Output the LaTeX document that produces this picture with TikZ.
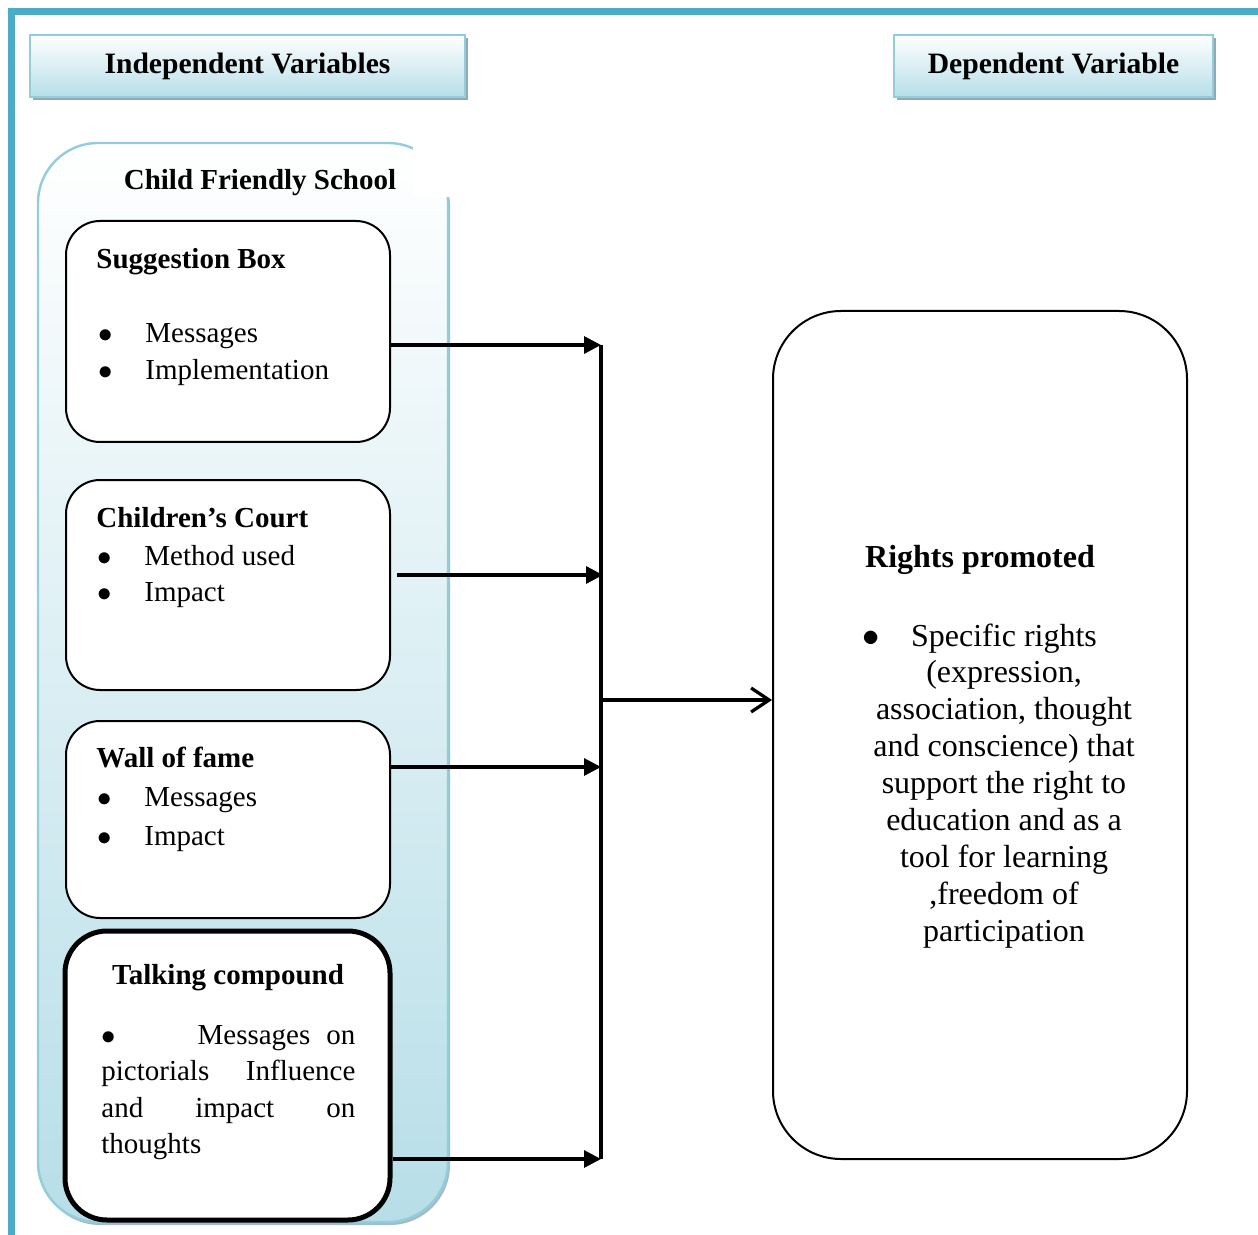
\documentclass[tikz,border=0pt]{standalone}
\usepackage{fontspec}
\setmainfont{Liberation Serif}
\usetikzlibrary{arrows.meta,shadows}
\definecolor{frameteal}{HTML}{4BACC6}
\definecolor{hdrborder}{HTML}{93CDDD}
\definecolor{hdrfill}{HTML}{B7DEE8}
\definecolor{hdrshadow}{HTML}{8FAAB1}
\newcommand\myfs{\fontsize{14.5pt}{18.5pt}\selectfont}
\newcommand\bigfs{\fontsize{16pt}{18.5pt}\selectfont}
\newcommand\mybul{$\bullet$}
\begin{document}
\begin{tikzpicture}[x=0.5pt,y=-0.5pt,
  font=\myfs,
  hdr/.style={draw=hdrborder, line width=1pt, top color=white, bottom color=hdrfill,
    drop shadow={shadow xshift=1.6pt, shadow yshift=-1.6pt, fill=hdrshadow, opacity=1},
    minimum height=31pt, inner sep=0pt, font=\fontsize{14.8pt}{18.5pt}\selectfont\bfseries},
  container/.style={draw=hdrborder, line width=1.2pt, rounded corners=30pt,
    top color=white, bottom color=hdrfill,
    drop shadow={shadow xshift=1pt, shadow yshift=-1.5pt, fill=hdrshadow, opacity=0.8},
    minimum width=205pt, minimum height=539.5pt, inner sep=0pt},
  itembox/.style={draw, line width=1pt, fill=white, rounded corners=17pt,
    minimum width=162pt, inner sep=0pt},
  lbl/.style={inner sep=0pt, anchor=base west},
  ttl/.style={inner sep=0pt, anchor=base west, font=\myfs\bfseries},
  arr/.style={line width=1.6pt, -{Triangle[length=8.5pt,width=8.5pt]}},
  bigarr/.style={line width=1.6pt, -{Straight Barb[length=9pt,width=12pt]}},
  bus/.style={line width=2.1pt}
]
\useasboundingbox (0,0) rectangle (1258,1235);
% outer frame
\draw[frameteal, line width=3.5pt] (11.5,1235) -- (11.5,12) -- (1258,12);

% headers
\node[hdr, minimum width=217.5pt] (indep) at (247.5,66) {Independent Variables};
\node[hdr, minimum width=159.5pt] (dep) at (1053.5,66) {Dependent Variable};

% container
\node[container] (cfsbox) at (243,682.5) {};
\fill[white] (413,134) rectangle (456,197);
\node[ttl, anchor=base] (cfs) at (260,190) {Child Friendly School};

% item boxes
\node[itembox, minimum height=110.5pt] (sb) at (228,331.5) {};
\node[itembox, minimum height=105pt] (cc) at (228,585) {};
\node[itembox, minimum height=98.5pt] (wf) at (228,819.5) {};
\node[itembox, line width=2.5pt, rounded corners=21pt, minimum width=162.5pt, minimum height=144.5pt] (tc) at (227.5,1075.5) {};

% suggestion box text
\node[ttl] (sbt) at (96,269) {Suggestion Box};
\node[lbl] (sb1) at (98,343) {\makebox[23.5pt][l]{\mybul}Messages};
\node[lbl] (sb2) at (98,380) {\makebox[23.5pt][l]{\mybul}Implementation};

% children's court text
\node[ttl] (cct) at (96,527) {Children’s Court};
\node[lbl] (cc1) at (97,565) {\makebox[23.5pt][l]{\mybul}Method used};
\node[lbl] (cc2) at (97,601) {\makebox[23.5pt][l]{\mybul}Impact};

% wall of fame text
\node[ttl] (wft) at (96,767) {Wall of fame};
\node[lbl] (wf1) at (97,806) {\makebox[23.5pt][l]{\mybul}Messages};
\node[lbl] (wf2) at (97,845) {\makebox[23.5pt][l]{\mybul}Impact};

% talking compound text
\node[ttl, anchor=base] (tct) at (228,984) {Talking compound};
\node[lbl] (tc1) at (101,1044) {\hbox to 127pt{\mybul\hskip 0pt plus 1fill Messages\hskip 8pt on}};
\node[lbl] (tc2) at (101,1080) {\hbox to 127pt{pictorials\hfill Influence}};
\node[lbl] (tc3) at (101,1117) {\hbox to 127pt{and\hfill impact\hfill on}};
\node[lbl] (tc4) at (101,1153) {thoughts};

% right box
\node[draw, line width=1pt, rounded corners=34pt, minimum width=207pt, minimum height=424pt, inner sep=0pt] (rp) at (980,735) {};
\node[inner sep=0pt, anchor=base, font=\bigfs\bfseries] (rpt) at (980,567) {Rights promoted};
\node[inner sep=0pt, anchor=base, font=\bigfs] (rpb) at (871,646) {\mybul};
\foreach \t [count=\i] in {{Specific rights},{(expression,},{association, thought},{and conscience) that},{support the right to},{education and as a},{tool for learning},{,freedom of},{participation}}
  \node[inner sep=0pt, anchor=base, font=\bigfs] (rl\i) at (1004,{609.1+36.9*\i}) {\t};

% connectors
\coordinate (a1) at (601,345);
\coordinate (a2) at (603,575);
\coordinate (a3) at (601,767);
\coordinate (a4) at (601,1159);
\coordinate (m) at (601,700);
\draw[bus] (601,345) -- (a4);
\draw[arr] (sb.east |- a1) -- (a1);
\draw[arr] ([xshift=3pt]cc.east |- a2) -- (a2);
\draw[arr] (wf.east |- a3) -- (a3);
\draw[arr] (tc.east |- a4) -- (a4);
\draw[bigarr] (m) -- (rp.west |- m);
\end{tikzpicture}
\end{document}
